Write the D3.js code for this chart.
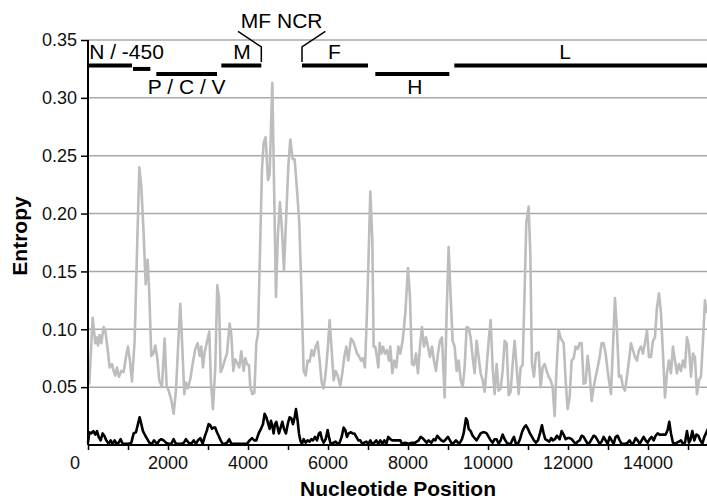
<!DOCTYPE html>
<html>
<head>
<meta charset="utf-8">
<script src="https://cdn.jsdelivr.net/npm/d3@7"></script>
<style>
  body { margin: 0; background: #fff; }
  svg { display: block; font-family: "Liberation Sans", Arial, sans-serif; }
</style>
</head>
<body>
<div id="chart"></div>
<script>
// entropy along the genome, [nucleotide position, entropy]
var grayEntropy = [
  [0,0.073],[33,0.053],[116,0.110],[183,0.088],[225,0.093],[250,0.086],[290,0.095],[333,0.088],
  [391,0.102],[433,0.099],[483,0.085],[541,0.067],[600,0.070],[641,0.064],[683,0.060],[724,0.067],
  [774,0.059],[833,0.064],[891,0.063],[949,0.076],[999,0.085],[1049,0.073],[1099,0.055],[1166,0.090],
  [1224,0.166],[1283,0.240],[1333,0.223],[1391,0.183],[1441,0.139],[1491,0.160],[1532,0.131],[1582,0.077],
  [1632,0.079],[1682,0.086],[1732,0.075],[1782,0.056],[1849,0.050],[1916,0.092],[1966,0.051],[2016,0.047],
  [2082,0.039],[2141,0.027],[2199,0.047],[2257,0.088],[2307,0.122],[2357,0.085],[2407,0.044],[2449,0.054],
  [2499,0.049],[2557,0.057],[2616,0.070],[2682,0.083],[2741,0.088],[2791,0.077],[2832,0.085],[2874,0.067],
  [2916,0.080],[2966,0.088],[3032,0.098],[3074,0.054],[3124,0.031],[3182,0.067],[3232,0.138],[3274,0.128],
  [3316,0.063],[3366,0.067],[3416,0.073],[3474,0.079],[3541,0.105],[3582,0.096],[3632,0.064],[3682,0.074],
  [3732,0.071],[3782,0.067],[3832,0.081],[3891,0.064],[3933,0.075],[3974,0.070],[4024,0.069],[4058,0.050],
  [4108,0.044],[4158,0.045],[4208,0.088],[4249,0.096],[4291,0.154],[4349,0.238],[4391,0.261],[4441,0.266],
  [4499,0.229],[4541,0.234],[4608,0.313],[4649,0.229],[4699,0.128],[4749,0.183],[4799,0.210],[4849,0.186],
  [4899,0.151],[4958,0.200],[5008,0.241],[5057,0.264],[5116,0.247],[5166,0.247],[5224,0.221],[5282,0.192],
  [5332,0.137],[5391,0.064],[5441,0.060],[5491,0.073],[5541,0.072],[5591,0.082],[5641,0.077],[5691,0.085],
  [5741,0.089],[5791,0.073],[5841,0.054],[5891,0.049],[5941,0.062],[5991,0.082],[6041,0.108],[6091,0.082],
  [6141,0.056],[6191,0.064],[6241,0.060],[6307,0.051],[6357,0.062],[6407,0.076],[6457,0.085],[6507,0.073],
  [6574,0.092],[6624,0.090],[6674,0.085],[6724,0.079],[6774,0.077],[6824,0.073],[6874,0.075],[6924,0.067],
  [6974,0.114],[7008,0.154],[7058,0.219],[7108,0.177],[7141,0.085],[7182,0.085],[7224,0.076],[7258,0.067],
  [7291,0.088],[7332,0.079],[7374,0.085],[7424,0.079],[7474,0.082],[7524,0.073],[7558,0.085],[7608,0.062],
  [7658,0.073],[7708,0.067],[7758,0.085],[7808,0.079],[7866,0.090],[7933,0.114],[7999,0.153],[8049,0.128],
  [8099,0.070],[8149,0.069],[8199,0.079],[8249,0.062],[8299,0.085],[8349,0.102],[8399,0.085],[8449,0.093],
  [8499,0.085],[8549,0.076],[8599,0.085],[8649,0.073],[8699,0.064],[8749,0.079],[8799,0.090],[8849,0.093],
  [8916,0.041],[8966,0.114],[9016,0.171],[9066,0.128],[9116,0.090],[9166,0.085],[9216,0.064],[9266,0.073],
  [9316,0.056],[9366,0.050],[9416,0.067],[9466,0.102],[9516,0.101],[9566,0.093],[9616,0.076],[9666,0.062],
  [9716,0.090],[9766,0.076],[9816,0.062],[9866,0.056],[9916,0.046],[9966,0.067],[10016,0.090],[10066,0.108],
  [10116,0.067],[10166,0.044],[10216,0.070],[10266,0.047],[10316,0.049],[10366,0.064],[10416,0.090],[10466,0.088],
  [10516,0.043],[10566,0.046],[10616,0.070],[10666,0.090],[10716,0.067],[10766,0.044],[10816,0.067],[10866,0.069],
  [10916,0.134],[10957,0.192],[11016,0.206],[11057,0.166],[11099,0.070],[11149,0.059],[11199,0.079],[11266,0.080],
  [11316,0.050],[11366,0.067],[11416,0.070],[11466,0.064],[11516,0.059],[11566,0.056],[11616,0.050],[11666,0.025],
  [11708,0.062],[11766,0.099],[11824,0.092],[11891,0.088],[11941,0.056],[11991,0.031],[12041,0.041],[12091,0.073],
  [12141,0.075],[12191,0.085],[12241,0.083],[12291,0.088],[12341,0.088],[12391,0.053],[12441,0.054],[12491,0.077],
  [12541,0.062],[12591,0.038],[12641,0.050],[12691,0.059],[12741,0.067],[12791,0.076],[12841,0.088],[12891,0.088],
  [12941,0.079],[12991,0.064],[13074,0.044],[13124,0.085],[13174,0.127],[13224,0.099],[13274,0.059],[13324,0.060],
  [13374,0.050],[13424,0.047],[13474,0.059],[13524,0.073],[13574,0.088],[13624,0.082],[13674,0.076],[13724,0.073],
  [13774,0.082],[13824,0.085],[13874,0.079],[13924,0.088],[13974,0.099],[14024,0.076],[14074,0.076],[14124,0.090],
  [14174,0.093],[14224,0.119],[14274,0.131],[14324,0.114],[14374,0.079],[14424,0.041],[14474,0.062],[14524,0.073],
  [14574,0.062],[14624,0.085],[14674,0.073],[14724,0.062],[14774,0.070],[14824,0.064],[14874,0.073],[14924,0.067],
  [14974,0.093],[15024,0.085],[15074,0.059],[15124,0.079],[15174,0.076],[15224,0.044],[15274,0.056],[15324,0.059],
  [15374,0.090],[15424,0.125],[15474,0.114]
]

var blackEntropy = [
  [0,0.002],[33,0.011],[83,0.010],[133,0.012],[183,0.009],[225,0.012],[266,0.007],[316,0.004],
  [366,0.010],[408,0.008],[458,0.004],[516,0.001],[566,0.004],[616,0.001],[666,0.004],[716,0.001],
  [766,0.002],[816,0.005],[866,0.001],[916,0.001],[966,0.001],[1016,0.001],[1083,0.002],[1141,0.010],
  [1199,0.011],[1249,0.018],[1291,0.024],[1333,0.018],[1374,0.012],[1433,0.008],[1483,0.005],[1533,0.002],
  [1599,0.001],[1649,0.004],[1699,0.002],[1732,0.001],[1782,0.004],[1832,0.005],[1891,0.004],[1949,0.002],
  [2016,0.001],[2082,0.001],[2141,0.005],[2199,0.001],[2266,0.001],[2332,0.001],[2399,0.002],[2449,0.005],
  [2516,0.002],[2582,0.001],[2641,0.004],[2699,0.001],[2749,0.004],[2807,0.006],[2866,0.001],[2916,0.007],
  [2966,0.012],[3016,0.018],[3057,0.017],[3099,0.014],[3141,0.015],[3182,0.015],[3224,0.011],[3266,0.008],
  [3316,0.004],[3366,0.001],[3416,0.001],[3474,0.002],[3532,0.005],[3582,0.001],[3632,0.001],[3700,0.001],
  [3760,0.001],[3808,0.001],[3891,0.001],[3974,0.001],[4041,0.004],[4099,0.006],[4158,0.004],[4208,0.004],
  [4266,0.010],[4324,0.014],[4374,0.018],[4416,0.027],[4458,0.024],[4508,0.018],[4541,0.014],[4574,0.021],
  [4616,0.015],[4641,0.010],[4674,0.018],[4708,0.020],[4741,0.015],[4774,0.010],[4816,0.015],[4858,0.020],
  [4899,0.014],[4949,0.010],[5000,0.019],[5041,0.024],[5083,0.023],[5124,0.018],[5166,0.024],[5199,0.031],
  [5241,0.021],[5274,0.010],[5308,0.004],[5349,0.001],[5391,0.005],[5441,0.002],[5491,0.004],[5541,0.003],
  [5583,0.005],[5624,0.004],[5674,0.007],[5724,0.004],[5774,0.010],[5808,0.011],[5849,0.005],[5891,0.002],
  [5941,0.005],[5991,0.013],[6024,0.007],[6058,0.002],[6099,0.001],[6141,0.002],[6191,0.003],[6241,0.001],
  [6291,0.002],[6341,0.007],[6391,0.015],[6433,0.013],[6474,0.007],[6516,0.010],[6574,0.011],[6616,0.010],
  [6658,0.010],[6708,0.007],[6758,0.004],[6808,0.004],[6858,0.001],[6908,0.002],[6958,0.003],[7008,0.001],
  [7058,0.004],[7099,0.001],[7158,0.002],[7208,0.004],[7258,0.001],[7308,0.004],[7358,0.001],[7408,0.004],
  [7458,0.001],[7507,0.007],[7558,0.005],[7608,0.004],[7658,0.004],[7724,0.004],[7808,0.004],[7849,0.001],
  [7933,0.002],[8016,0.001],[8099,0.002],[8182,0.002],[8266,0.004],[8316,0.007],[8366,0.006],[8416,0.004],
  [8466,0.002],[8516,0.004],[8582,0.002],[8641,0.005],[8682,0.004],[8732,0.008],[8782,0.006],[8832,0.004],
  [8891,0.003],[8949,0.005],[8999,0.007],[9049,0.004],[9099,0.001],[9149,0.002],[9199,0.004],[9249,0.002],
  [9299,0.002],[9349,0.005],[9391,0.010],[9449,0.023],[9483,0.021],[9516,0.014],[9566,0.012],[9616,0.008],
  [9666,0.006],[9716,0.004],[9766,0.007],[9816,0.010],[9866,0.011],[9916,0.011],[9966,0.010],[10016,0.007],
  [10066,0.004],[10116,0.002],[10166,0.005],[10216,0.005],[10266,0.001],[10316,0.004],[10366,0.009],[10416,0.005],
  [10466,0.002],[10516,0.001],[10566,0.001],[10616,0.005],[10649,0.007],[10699,0.001],[10749,0.001],[10799,0.005],
  [10849,0.011],[10899,0.015],[10949,0.017],[10999,0.014],[11049,0.010],[11099,0.007],[11149,0.004],[11199,0.002],
  [11249,0.004],[11299,0.010],[11349,0.017],[11391,0.010],[11432,0.005],[11482,0.004],[11532,0.003],[11582,0.006],
  [11624,0.004],[11674,0.005],[11724,0.008],[11791,0.005],[11841,0.012],[11891,0.009],[11941,0.005],[11991,0.006],
  [12041,0.006],[12091,0.005],[12141,0.003],[12191,0.001],[12241,0.003],[12291,0.004],[12341,0.008],[12391,0.007],
  [12441,0.004],[12491,0.001],[12541,0.002],[12591,0.005],[12641,0.008],[12691,0.007],[12741,0.004],[12791,0.001],
  [12841,0.003],[12891,0.007],[12941,0.004],[12991,0.001],[13041,0.007],[13091,0.004],[13141,0.001],[13191,0.007],
  [13241,0.008],[13291,0.004],[13341,0.001],[13391,0.001],[13441,0.001],[13491,0.002],[13541,0.004],[13591,0.001],
  [13641,0.002],[13691,0.006],[13741,0.004],[13791,0.001],[13841,0.004],[13891,0.007],[13941,0.004],[13991,0.002],
  [14041,0.005],[14091,0.007],[14141,0.004],[14191,0.008],[14241,0.010],[14291,0.009],[14341,0.009],[14391,0.009],
  [14441,0.009],[14491,0.013],[14532,0.020],[14574,0.010],[14624,0.002],[14674,0.001],[14724,0.002],[14774,0.003],
  [14824,0.004],[14874,0.001],[14924,0.002],[14974,0.012],[15024,0.002],[15058,0.004],[15108,0.012],[15158,0.004],
  [15208,0.009],[15258,0.008],[15308,0.004],[15358,0.001],[15408,0.007],[15474,0.012],[15500,0.014]
]

// gene map along the top (nucleotide start / end, row, where the label sits)
var genes = [
  {name: "N / -450",  start: 0,    end: 1100,  row: 0, labelAt: 30,    anchor: "start"},
  {name: "",          start: 1125, end: 1558,  row: 1},
  {name: "P / C / V", start: 1708, end: 3225,  row: 2, labelAt: 2467,  anchor: "middle"},
  {name: "M",         start: 3333, end: 4333,  row: 0, labelAt: 3850,  anchor: "middle"},
  {name: "F",         start: 5350, end: 7000,  row: 0, labelAt: 6160,  anchor: "middle"},
  {name: "H",         start: 7183, end: 9033,  row: 2, labelAt: 8170,  anchor: "middle"},
  {name: "L",         start: 9158, end: 15500, row: 0, labelAt: 11930, anchor: "middle"}
]
var ncrLabel = "MF NCR"
var yTicks = [0.05, 0.10, 0.15, 0.20, 0.25, 0.30, 0.35]
var xLabelTicks = [0, 2000, 4000, 6000, 8000, 10000, 12000, 14000]
var xMinorTicks = d3.range(0, 16000, 1000)

var W = 707, H = 499
var plotLeft = 88, plotRight = 708, plotTop = 40, plotBottom = 445

var x = d3.scaleLinear().domain([0, 15500]).range([plotLeft, plotRight])
var y = d3.scaleLinear().domain([0, 0.35]).range([plotBottom, plotTop])
var rowValue = [0.328, 0.325, 0.3206]

var svg = d3.select("#chart").append("svg")
    .attr("width", W)
    .attr("height", H)

svg.append("rect").attr("width", W).attr("height", H).attr("fill", "#fff")

// gridlines
svg.append("g").selectAll("line")
    .data(yTicks)
  .enter().append("line")
    .attr("x1", plotLeft).attr("x2", W)
    .attr("y1", d => y(d)).attr("y2", d => y(d))
    .attr("stroke", "#a8a8a8")
    .attr("stroke-width", 1.5)

// series
var line = d3.line().x(d => x(d[0])).y(d => y(d[1]))

svg.append("path")
    .datum(grayEntropy)
    .attr("d", line)
    .attr("fill", "none")
    .attr("stroke", "#bdbdbd")
    .attr("stroke-width", 2.6)
    .attr("stroke-linejoin", "round")

svg.append("path")
    .datum(blackEntropy)
    .attr("d", line)
    .attr("fill", "none")
    .attr("stroke", "#000")
    .attr("stroke-width", 2.6)
    .attr("stroke-linejoin", "round")

// y axis
var yAxis = svg.append("g")
    .attr("transform", "translate(" + plotLeft + ",0)")
    .call(d3.axisLeft(y).tickValues(yTicks).tickSize(7).tickPadding(4).tickFormat(d3.format(".2f")))
yAxis.select(".domain").attr("stroke-width", 2).attr("d", "M0," + plotTop + "V" + plotBottom)
yAxis.selectAll(".tick line").attr("stroke-width", 1.5)
yAxis.selectAll("text")
    .attr("font-size", 18)
    .attr("font-family", "Liberation Sans, Arial, sans-serif")
    .attr("fill", "#111")

// x axis: minor ticks every 1000, labels every 2000
var xAxis = svg.append("g")
    .attr("transform", "translate(0," + plotBottom + ")")
    .call(d3.axisBottom(x).tickValues(xMinorTicks).tickSize(5).tickFormat(""))
xAxis.select(".domain").attr("stroke-width", 2).attr("d", "M" + plotLeft + ",0H" + W)
xAxis.selectAll(".tick line").attr("stroke-width", 1.5)

svg.append("g").selectAll("text")
    .data(xLabelTicks)
  .enter().append("text")
    .attr("x", d => d == 0 ? x(d) - 13 : x(d))
    .attr("y", plotBottom + 24)
    .attr("text-anchor", "middle")
    .attr("font-size", 18)
    .attr("fill", "#111")
    .text(d => d)

// axis titles
svg.append("text")
    .attr("x", (plotLeft + plotRight) / 2)
    .attr("y", 496)
    .attr("text-anchor", "middle")
    .attr("font-size", 21)
    .attr("font-weight", "bold")
    .text("Nucleotide Position")

svg.append("text")
    .attr("transform", "translate(27,236) rotate(-90)")
    .attr("text-anchor", "middle")
    .attr("font-size", 21)
    .attr("font-weight", "bold")
    .text("Entropy")

// gene bars
var geneG = svg.append("g")
geneG.selectAll("line")
    .data(genes)
  .enter().append("line")
    .attr("x1", d => x(d.start)).attr("x2", d => x(d.end))
    .attr("y1", d => y(rowValue[d.row])).attr("y2", d => y(rowValue[d.row]))
    .attr("stroke", "#000")
    .attr("stroke-width", 4)

geneG.selectAll("text")
    .data(genes.filter(d => d.name))
  .enter().append("text")
    .attr("x", d => x(d.labelAt))
    .attr("y", d => d.row == 0 ? y(rowValue[d.row]) - 6 : y(rowValue[d.row]) + 20)
    .attr("text-anchor", d => d.anchor)
    .attr("font-size", 21)
    .text(d => d.name)

// MF NCR bracket
var mEnd = genes[3].end, fStart = genes[4].start
var bracket = [
  [[mEnd, 0.331], [mEnd, 0.344], [3750, 0.3575]],
  [[fStart, 0.331], [fStart, 0.344], [5933, 0.3575]]
]
svg.append("g").selectAll("path")
    .data(bracket)
  .enter().append("path")
    .attr("d", line)
    .attr("fill", "none")
    .attr("stroke", "#000")
    .attr("stroke-width", 1.5)

svg.append("text")
    .attr("x", x((3750 + 5933) / 2))
    .attr("y", 28)
    .attr("text-anchor", "middle")
    .attr("font-size", 21)
    .text(ncrLabel)
</script>
</body>
</html>
